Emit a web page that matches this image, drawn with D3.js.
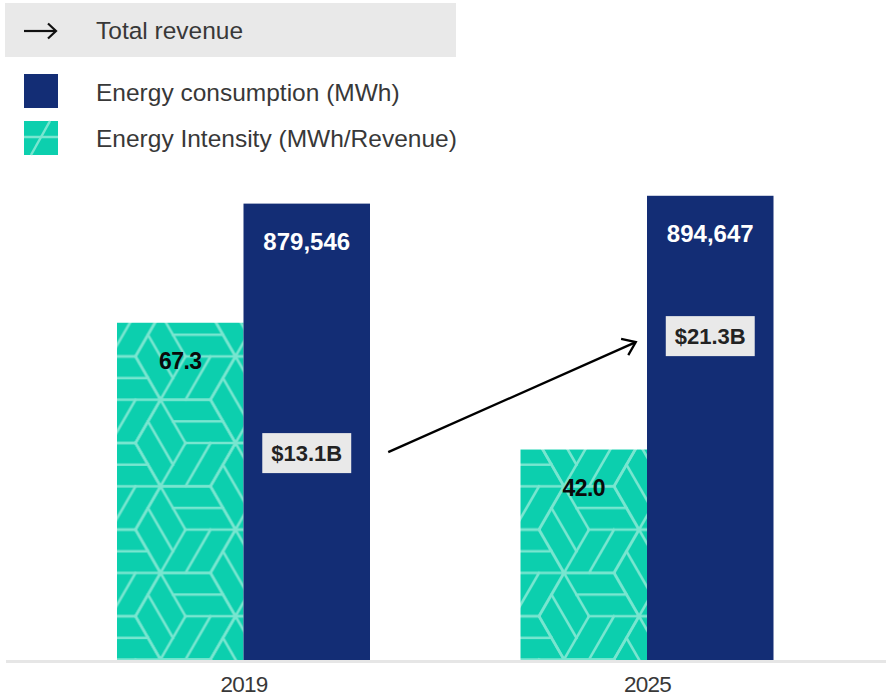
<!DOCTYPE html>
<html>
<head>
<meta charset="utf-8">
<script src="https://cdn.jsdelivr.net/npm/d3@7"></script>
<style>
  html, body { margin: 0; padding: 0; background: #fff; }
  svg { display: block; }
  .light { font-family: "Liberation Sans", Arial, sans-serif; font-weight: 400; fill: #383838; }
  .bold { font-family: "Liberation Sans", Arial, sans-serif; font-weight: 700; }
</style>
</head>
<body>
<svg id="chart" width="891" height="700"></svg>
<script>
// ---- data ----
const years = ["2019", "2025"];
const energyMWh = [879546, 894647];
const intensity = [67.3, 42.0];
const revenueB = [13.1, 21.3];
const energyLabels = ["879,546", "894,647"];
const intensityLabels = ["67.3", "42.0"];
const revenueLabels = ["$13.1B", "$21.3B"];
const legendLabels = ["Total revenue", "Energy consumption (MWh)", "Energy Intensity (MWh/Revenue)"];

// ---- palette ----
const NAVY = "#132d75";
const TEAL = "#0ccfae";
const TEAL_LINE = "#78e6d0";
const GREY = "#e9e9e9";

const svg = d3.select("#chart");
const defs = svg.append("defs");

// ---- woven hexagon fill for the intensity bars ----
const a = 50;                      // hexagon side
const hh = a * Math.sqrt(3);       // hexagon height
const tileW = 3 * a, tileH = hh;
const pat = defs.append("pattern")
  .attr("id", "weave")
  .attr("patternUnits", "userSpaceOnUse")
  .attr("width", tileW).attr("height", tileH)
  .attr("x", 92).attr("y", 10);
pat.append("rect").attr("width", tileW).attr("height", tileH).attr("fill", TEAL);

function hexSegments(cx, cy) {
  const V = d3.range(6).map(k => [cx + a * Math.cos(k * Math.PI / 3), cy - a * Math.sin(k * Math.PI / 3)]);
  const C = [cx, cy];
  const mid = (p, q) => [(p[0] + q[0]) / 2, (p[1] + q[1]) / 2];
  const segs = [];
  for (let k = 0; k < 6; k++) segs.push([V[k], V[(k + 1) % 6]]);
  for (let k = 0; k < 3; k++) {
    const v0 = V[2 * k], v1 = V[2 * k + 1], v2 = V[(2 * k + 2) % 6];
    segs.push([C, v0]);
    segs.push([mid(C, v2), mid(v0, v1)]);
  }
  return segs;
}
let segs = [];
for (let i = -1; i <= 1; i++) {
  for (let j = -1; j <= 1; j++) {
    segs = segs.concat(hexSegments(i * tileW, j * tileH));
    segs = segs.concat(hexSegments(i * tileW + 1.5 * a, j * tileH + tileH / 2));
  }
}
pat.selectAll("line").data(segs).join("line")
  .attr("x1", d => d[0][0]).attr("y1", d => d[0][1])
  .attr("x2", d => d[1][0]).attr("y2", d => d[1][1])
  .attr("stroke", TEAL_LINE).attr("stroke-width", 2.6).attr("stroke-linecap", "square");

// ---- scales ----
const baseY = 660;
const x = d3.scalePoint().domain(years).range([243.5, 647]);
const barW = 126.5;
const sub = d3.scaleBand().domain(["intensity", "energy"]).range([-barW, barW]);
const yE = d3.scaleLinear().domain([0, 900000]).range([baseY, 193]);
const yI = d3.scaleLinear().domain([0, 90]).range([baseY, 209]);
const yR = d3.scaleLinear().domain([0, 30]).range([640, 212]);

// ---- legend ----
const leg = svg.append("g");
leg.append("rect").attr("x", 5).attr("y", 3).attr("width", 451).attr("height", 54).attr("fill", GREY);
leg.append("line").attr("x1", 24).attr("y1", 31).attr("x2", 56).attr("y2", 31)
  .attr("stroke", "#111").attr("stroke-width", 2.2);
leg.append("path").attr("d", "M48,23.5 L56,31 L48,38.5")
  .attr("fill", "none").attr("stroke", "#111").attr("stroke-width", 2.2);
leg.append("rect").attr("x", 24).attr("y", 74).attr("width", 34).attr("height", 34).attr("fill", NAVY);
leg.append("rect").attr("x", 24).attr("y", 121).attr("width", 34).attr("height", 34).attr("fill", TEAL);
leg.append("line").attr("x1", 24).attr("y1", 137).attr("x2", 58).attr("y2", 137)
  .attr("stroke", TEAL_LINE).attr("stroke-width", 2.5);
leg.append("line").attr("x1", 31).attr("y1", 155).attr("x2", 50).attr("y2", 121)
  .attr("stroke", TEAL_LINE).attr("stroke-width", 2.5);
leg.selectAll("text.leg").data(legendLabels).join("text")
  .attr("class", "leg light")
  .attr("x", 96)
  .attr("y", (d, i) => [39, 101, 147][i])
  .attr("font-size", 24.5)
  .text(d => d);

// ---- bars ----
const groups = svg.selectAll("g.year").data(years).join("g")
  .attr("class", "year")
  .attr("transform", d => `translate(${x(d)},0)`);

groups.append("rect")
  .attr("x", sub("intensity")).attr("width", sub.bandwidth())
  .attr("y", (d, i) => yI(intensity[i]))
  .attr("height", (d, i) => baseY - yI(intensity[i]))
  .attr("fill", "url(#weave)");

groups.append("rect")
  .attr("x", sub("energy")).attr("width", sub.bandwidth())
  .attr("y", (d, i) => yE(energyMWh[i]))
  .attr("height", (d, i) => baseY - yE(energyMWh[i]))
  .attr("fill", NAVY);

// value labels
groups.append("text")
  .attr("class", "bold")
  .attr("x", sub("intensity") + sub.bandwidth() / 2)
  .attr("y", (d, i) => yI(intensity[i]) + 46)
  .attr("text-anchor", "middle")
  .attr("font-size", 23)
  .attr("letter-spacing", -0.6)
  .attr("fill", "#0a0a0a")
  .text((d, i) => intensityLabels[i]);

groups.append("text")
  .attr("class", "bold")
  .attr("x", sub("energy") + sub.bandwidth() / 2)
  .attr("y", (d, i) => yE(energyMWh[i]) + 46)
  .attr("text-anchor", "middle")
  .attr("font-size", 24)
  .attr("fill", "#fff")
  .text((d, i) => energyLabels[i]);

// ---- baseline and year axis ----
svg.append("line").attr("x1", 6).attr("x2", 886).attr("y1", baseY + 1.5).attr("y2", baseY + 1.5)
  .attr("stroke", "#e6e6e6").attr("stroke-width", 3);

const axis = d3.axisBottom(x).tickSize(0).tickPadding(0);
const ax = svg.append("g").attr("transform", `translate(0,${baseY})`).call(axis);
ax.select(".domain").remove();
ax.selectAll("text")
  .attr("class", "light")
  .attr("dy", null)
  .attr("y", 32)
  .attr("font-size", 22.5)
  .attr("letter-spacing", -0.8)
  .style("fill", "#383838");

// ---- revenue boxes and arrow ----
const boxes = [];
years.forEach((yr, i) => {
  const cx = x(yr) + sub("energy") + sub.bandwidth() / 2;
  const cy = yR(revenueB[i]);
  const g = svg.append("g");
  const rect = g.append("rect").attr("fill", GREY);
  const t = g.append("text")
    .attr("class", "bold")
    .attr("x", cx).attr("y", cy + 8)
    .attr("text-anchor", "middle")
    .attr("font-size", 22)
    .attr("fill", "#222")
    .text(revenueLabels[i]);
  const w = t.node().getComputedTextLength() + 18;
  rect.attr("x", cx - w / 2).attr("y", cy - 20).attr("width", w).attr("height", 40);
  boxes.push({ left: cx - w / 2, right: cx + w / 2, cy });
});

const ax0 = boxes[0].right + 37, ay0 = boxes[0].cy - 1;
const ax1 = boxes[1].left - 30, ay1 = boxes[1].cy + 6;
svg.append("line")
  .attr("x1", ax0).attr("y1", ay0).attr("x2", ax1).attr("y2", ay1)
  .attr("stroke", "#000").attr("stroke-width", 2.3);
const ang = Math.atan2(ay1 - ay0, ax1 - ax0);
const headLen = 15, spread = Math.PI / 5;
const hp = [ang + Math.PI - spread, ang + Math.PI + spread]
  .map(t => [ax1 + headLen * Math.cos(t), ay1 + headLen * Math.sin(t)]);
svg.append("path")
  .attr("d", `M${hp[0][0]},${hp[0][1]} L${ax1},${ay1} L${hp[1][0]},${hp[1][1]}`)
  .attr("fill", "none").attr("stroke", "#000").attr("stroke-width", 2.3);
</script>
</body>
</html>
